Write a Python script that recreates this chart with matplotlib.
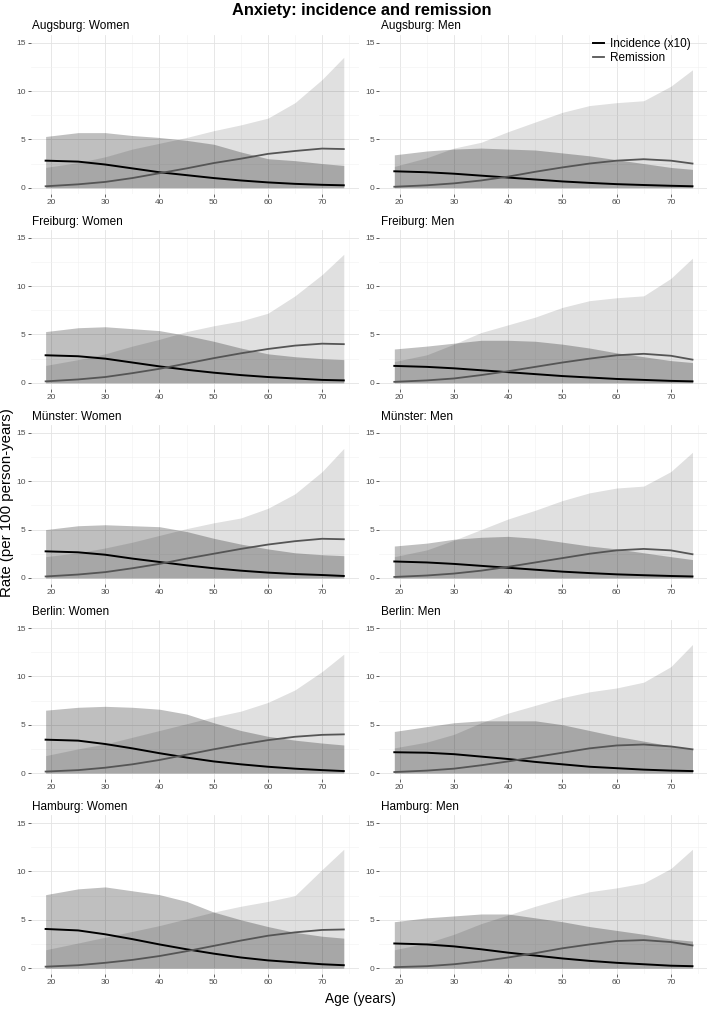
import matplotlib
matplotlib.use('Agg')
from matplotlib import pyplot as plt
from matplotlib.ticker import MultipleLocator

plt.rcParams['font.family'] = ['Liberation Sans', 'DejaVu Sans']

ages = [19, 25, 30, 35, 40, 45, 50, 55, 60, 65, 70, 74]

# upper CI of incidence (x10) ribbon, upper CI of remission ribbon, incidence (x10), remission
aug_w_inc_hi = [5.3, 5.7, 5.7, 5.4, 5.2, 4.9, 4.5, 3.7, 3.0, 2.8, 2.5, 2.3]
aug_w_rem_hi = [2.1, 2.6, 3.2, 4.0, 4.6, 5.2, 5.9, 6.5, 7.2, 8.8, 11.2, 13.5]
aug_w_inc = [2.8, 2.7, 2.4, 2.0, 1.6, 1.3, 1.0, 0.75, 0.55, 0.4, 0.3, 0.25]
aug_w_rem = [0.15, 0.35, 0.6, 1.0, 1.5, 2.0, 2.55, 3.0, 3.5, 3.8, 4.05, 4.0]

aug_m_inc_hi = [3.4, 3.8, 4.0, 4.1, 4.0, 3.9, 3.6, 3.3, 2.9, 2.5, 2.1, 1.9]
aug_m_rem_hi = [2.2, 3.1, 4.1, 4.7, 5.8, 6.8, 7.8, 8.5, 8.8, 9.0, 10.5, 12.2]
aug_m_inc = [1.7, 1.6, 1.45, 1.25, 1.05, 0.85, 0.65, 0.5, 0.37, 0.28, 0.2, 0.15]
aug_m_rem = [0.1, 0.25, 0.45, 0.75, 1.15, 1.65, 2.1, 2.5, 2.8, 2.95, 2.8, 2.5]

fre_w_inc_hi = [5.3, 5.7, 5.8, 5.6, 5.4, 4.9, 4.3, 3.6, 3.0, 2.7, 2.5, 2.4]
fre_w_rem_hi = [1.8, 2.4, 3.0, 3.8, 4.5, 5.3, 5.9, 6.4, 7.2, 9.0, 11.2, 13.3]
fre_w_inc = [2.85, 2.75, 2.5, 2.1, 1.7, 1.35, 1.05, 0.8, 0.6, 0.45, 0.3, 0.25]
fre_w_rem = [0.15, 0.35, 0.6, 1.0, 1.45, 2.0, 2.55, 3.05, 3.5, 3.85, 4.05, 4.0]

fre_m_inc_hi = [3.5, 3.8, 4.1, 4.4, 4.4, 4.3, 4.0, 3.6, 3.1, 2.7, 2.3, 2.1]
fre_m_rem_hi = [2.2, 2.9, 4.0, 5.2, 6.0, 6.8, 7.8, 8.5, 8.8, 9.0, 10.8, 12.9]
fre_m_inc = [1.75, 1.65, 1.5, 1.3, 1.1, 0.9, 0.7, 0.55, 0.4, 0.3, 0.2, 0.15]
fre_m_rem = [0.1, 0.25, 0.45, 0.8, 1.2, 1.65, 2.1, 2.5, 2.85, 3.0, 2.8, 2.4]

mue_w_inc_hi = [5.0, 5.4, 5.5, 5.4, 5.3, 4.8, 4.1, 3.5, 3.0, 2.6, 2.4, 2.3]
mue_w_rem_hi = [2.2, 2.6, 3.1, 3.7, 4.4, 5.1, 5.7, 6.2, 7.2, 8.7, 11.0, 13.4]
mue_w_inc = [2.75, 2.65, 2.4, 2.0, 1.65, 1.3, 1.0, 0.75, 0.55, 0.4, 0.3, 0.2]
mue_w_rem = [0.15, 0.35, 0.6, 1.0, 1.45, 2.0, 2.5, 3.0, 3.45, 3.8, 4.05, 4.0]

mue_m_inc_hi = [3.3, 3.6, 4.0, 4.2, 4.3, 4.1, 3.7, 3.3, 3.0, 2.6, 2.2, 1.9]
mue_m_rem_hi = [2.2, 2.9, 3.9, 5.0, 6.1, 7.0, 8.0, 8.8, 9.3, 9.5, 11.0, 13.0]
mue_m_inc = [1.7, 1.6, 1.45, 1.25, 1.05, 0.85, 0.65, 0.5, 0.37, 0.28, 0.2, 0.15]
mue_m_rem = [0.1, 0.25, 0.45, 0.75, 1.15, 1.6, 2.05, 2.5, 2.85, 3.0, 2.85, 2.45]

ber_w_inc_hi = [6.5, 6.8, 6.9, 6.8, 6.6, 6.1, 5.2, 4.4, 3.8, 3.4, 3.1, 2.9]
ber_w_rem_hi = [1.8, 2.5, 3.0, 3.7, 4.4, 5.1, 5.8, 6.4, 7.3, 8.6, 10.5, 12.3]
ber_w_inc = [3.45, 3.35, 3.0, 2.55, 2.05, 1.6, 1.2, 0.9, 0.65, 0.45, 0.3, 0.2]
ber_w_rem = [0.15, 0.3, 0.55, 0.9, 1.35, 1.9, 2.45, 2.95, 3.4, 3.75, 3.95, 4.0]

ber_m_inc_hi = [4.3, 4.8, 5.2, 5.4, 5.4, 5.4, 5.0, 4.4, 3.8, 3.3, 2.8, 2.5]
ber_m_rem_hi = [2.6, 3.2, 4.0, 5.2, 6.2, 7.0, 7.8, 8.4, 8.8, 9.4, 11.0, 13.3]
ber_m_inc = [2.15, 2.1, 1.95, 1.7, 1.45, 1.15, 0.9, 0.65, 0.5, 0.35, 0.25, 0.2]
ber_m_rem = [0.1, 0.25, 0.45, 0.8, 1.2, 1.65, 2.1, 2.55, 2.85, 2.95, 2.75, 2.45]

ham_w_inc_hi = [7.6, 8.2, 8.4, 8.0, 7.6, 6.9, 5.8, 5.0, 4.3, 3.7, 3.3, 3.1]
ham_w_rem_hi = [1.9, 2.6, 3.2, 3.8, 4.4, 5.1, 5.8, 6.4, 6.9, 7.5, 10.2, 12.3]
ham_w_inc = [4.05, 3.9, 3.5, 3.0, 2.45, 1.95, 1.5, 1.1, 0.8, 0.6, 0.4, 0.3]
ham_w_rem = [0.15, 0.3, 0.55, 0.85, 1.25, 1.75, 2.3, 2.85, 3.35, 3.7, 3.95, 4.0]

ham_m_inc_hi = [4.8, 5.2, 5.4, 5.6, 5.6, 5.2, 4.8, 4.3, 3.9, 3.5, 3.0, 2.8]
ham_m_rem_hi = [1.9, 2.6, 3.5, 4.6, 5.5, 6.4, 7.2, 7.9, 8.3, 8.8, 10.3, 12.3]
ham_m_inc = [2.55, 2.45, 2.25, 1.95, 1.6, 1.3, 1.0, 0.75, 0.55, 0.4, 0.25, 0.2]
ham_m_rem = [0.1, 0.2, 0.4, 0.7, 1.1, 1.55, 2.05, 2.45, 2.8, 2.9, 2.7, 2.35]

panels = [
    ('Augsburg: Women', aug_w_inc_hi, aug_w_rem_hi, aug_w_inc, aug_w_rem),
    ('Augsburg: Men', aug_m_inc_hi, aug_m_rem_hi, aug_m_inc, aug_m_rem),
    ('Freiburg: Women', fre_w_inc_hi, fre_w_rem_hi, fre_w_inc, fre_w_rem),
    ('Freiburg: Men', fre_m_inc_hi, fre_m_rem_hi, fre_m_inc, fre_m_rem),
    ('Münster: Women', mue_w_inc_hi, mue_w_rem_hi, mue_w_inc, mue_w_rem),
    ('Münster: Men', mue_m_inc_hi, mue_m_rem_hi, mue_m_inc, mue_m_rem),
    ('Berlin: Women', ber_w_inc_hi, ber_w_rem_hi, ber_w_inc, ber_w_rem),
    ('Berlin: Men', ber_m_inc_hi, ber_m_rem_hi, ber_m_inc, ber_m_rem),
    ('Hamburg: Women', ham_w_inc_hi, ham_w_rem_hi, ham_w_inc, ham_w_rem),
    ('Hamburg: Men', ham_m_inc_hi, ham_m_rem_hi, ham_m_inc, ham_m_rem),
]

W, H = 708, 1009
fig = plt.figure(figsize=(W / 100, H / 100), dpi=100)

lefts = [30.7, 379.4]
width = 328.0
height = 159.0
for i, (title, inc_hi, rem_hi, inc, rem) in enumerate(panels):
    row, col = divmod(i, 2)
    bottom = 194 + 195.1 * row
    ax = fig.add_axes([lefts[col] / W, 1 - bottom / H, width / W, height / H])

    ax.fill_between(ages, 0, rem_hi, color='black', alpha=0.12, lw=0)
    ax.fill_between(ages, 0, inc_hi, color='black', alpha=0.25, lw=0)
    ax.plot(ages, inc, color='black', lw=1.4, label='Incidence (x10)')
    ax.plot(ages, rem, color='#555555', lw=1.3, label='Remission')

    ax.set_xlim(16.25, 76.75)
    ax.set_ylim(-0.65, 15.8)
    ax.xaxis.set_major_locator(MultipleLocator(10))
    ax.xaxis.set_minor_locator(MultipleLocator(5))
    ax.yaxis.set_major_locator(MultipleLocator(5))
    ax.yaxis.set_minor_locator(MultipleLocator(2.5))
    ax.grid(which='major', color='#e3e3e3', lw=0.6)
    ax.grid(which='minor', color='#f1f1f1', lw=0.4)
    ax.set_axisbelow(True)
    for s in ax.spines.values():
        s.set_visible(False)
    ax.tick_params(which='major', length=2, width=0.6, color='#444444',
                   labelsize=6, labelcolor='#4d4d4d', pad=1.5)
    ax.tick_params(which='minor', length=0)
    ax.set_title(title, loc='left', fontsize=8.5, pad=4, x=0.005)

    if i == 1:
        ax.legend(loc='upper right', frameon=False, fontsize=8.5,
                  handlelength=1.0, handletextpad=0.5, labelspacing=0.2,
                  borderaxespad=0, borderpad=0,
                  bbox_to_anchor=(691 / W, 1 - 38 / H),
                  bbox_transform=fig.transFigure)

fig.text(362 / W, 1 - 10 / H, 'Anxiety: incidence and remission', ha='center',
         va='center', fontsize=11.8, fontweight='bold')
fig.text(7.5 / W, 1 - 503 / H, 'Rate (per 100 person-years)', rotation=90,
         ha='center', va='center', fontsize=10.8)
fig.text(360 / W, 1 - 999 / H, 'Age (years)', ha='center', va='center',
         fontsize=9.8)

plt.savefig('out.png', dpi=100)
